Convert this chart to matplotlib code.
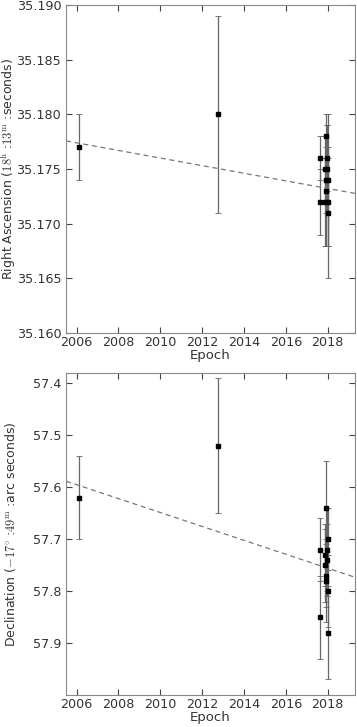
import numpy as np
import matplotlib
matplotlib.use('Agg')
import matplotlib.pyplot as plt

plt.rcParams['mathtext.fontset'] = 'cm'
plt.rcParams['font.family'] = 'DejaVu Sans'

# ~~~~~~~~ data ~~~~~~~~
epoch = [2006.1, 2012.75, 2017.62, 2017.62,
         2017.85, 2017.88, 2017.90, 2017.92, 2017.93,
         2017.95, 2017.97, 2018.00, 2018.00, 2018.02]

ra = [35.177, 35.180, 35.176, 35.172,
      35.175, 35.172, 35.174, 35.178, 35.173,
      35.175, 35.176, 35.174, 35.171, 35.172]
dra = [0.003, 0.009, 0.002, 0.003,
       0.003, 0.004, 0.003, 0.002, 0.005,
       0.004, 0.003, 0.006, 0.006, 0.004]

dec = [57.62, 57.52, 57.72, 57.85,
       57.73, 57.75, 57.77, 57.64, 57.78,
       57.74, 57.72, 57.70, 57.88, 57.80]
ddec = [0.08, 0.13, 0.06, 0.08,
        0.06, 0.07, 0.06, 0.09, 0.08,
        0.07, 0.08, 0.06, 0.09, 0.07]

# linear fits (slope per year, value at 2006)
ra_fit = (-0.000348, 35.1774)
dec_fit = (0.0134, 57.595)

xlim = (2005.5, 2019.3)
xticks = [2006, 2008, 2010, 2012, 2014, 2016, 2018]

fig = plt.figure(figsize=(3.57, 7.27), dpi=100)
ax1 = fig.add_axes([0.185, 0.542, 0.809, 0.451])
ax2 = fig.add_axes([0.185, 0.044, 0.809, 0.443])

tcol = '#333333'
for ax, y, dy, fit in [(ax1, ra, dra, ra_fit), (ax2, dec, ddec, dec_fit)]:
    ax.errorbar(epoch, y, yerr=dy, fmt='s', color='black', markersize=3,
                ecolor='#666666', elinewidth=0.9, capsize=2, capthick=0.6)
    xx = np.array(xlim)
    ax.plot(xx, fit[1] + fit[0] * (xx - 2006), linestyle='--', color='#777777',
            linewidth=0.9, dashes=(4, 3))
    ax.set_xlim(*xlim)
    ax.set_xticks(xticks)
    ax.tick_params(direction='in', top=True, right=True, length=4,
                   colors='#444444', labelcolor=tcol, labelsize=9.2, pad=3.5)
    ax.tick_params(axis='x', pad=2)
    for s in ax.spines.values():
        s.set_color('#888888')
    ax.set_xlabel('Epoch', color=tcol, fontsize=9.5, labelpad=0)

ax1.set_ylim(35.160, 35.190)
ax1.set_yticks(np.arange(35.160, 35.1901, 0.005))
ax1.set_yticklabels(['%.3f' % v for v in np.arange(35.160, 35.1901, 0.005)])
ax1.set_ylabel(r'Right Ascension ($18^{\rm h}$ :$13^{\rm m}$ :seconds)', color=tcol, fontsize=9)

ax2.set_ylim(58.0, 57.38)
ax2.set_yticks([57.4, 57.5, 57.6, 57.7, 57.8, 57.9])
ax2.set_yticklabels(['57.4', '57.5', '57.6', '57.7', '57.8', '57.9'])
ax2.set_ylabel(r'Declination ($-17^{\circ}$ :$49^{\rm m}$ :arc seconds)', color=tcol, fontsize=9)

ax1.yaxis.set_label_coords(-0.167, 0.5)
ax2.yaxis.set_label_coords(-0.167, 0.5)

fig.savefig('out.png', dpi=100)
